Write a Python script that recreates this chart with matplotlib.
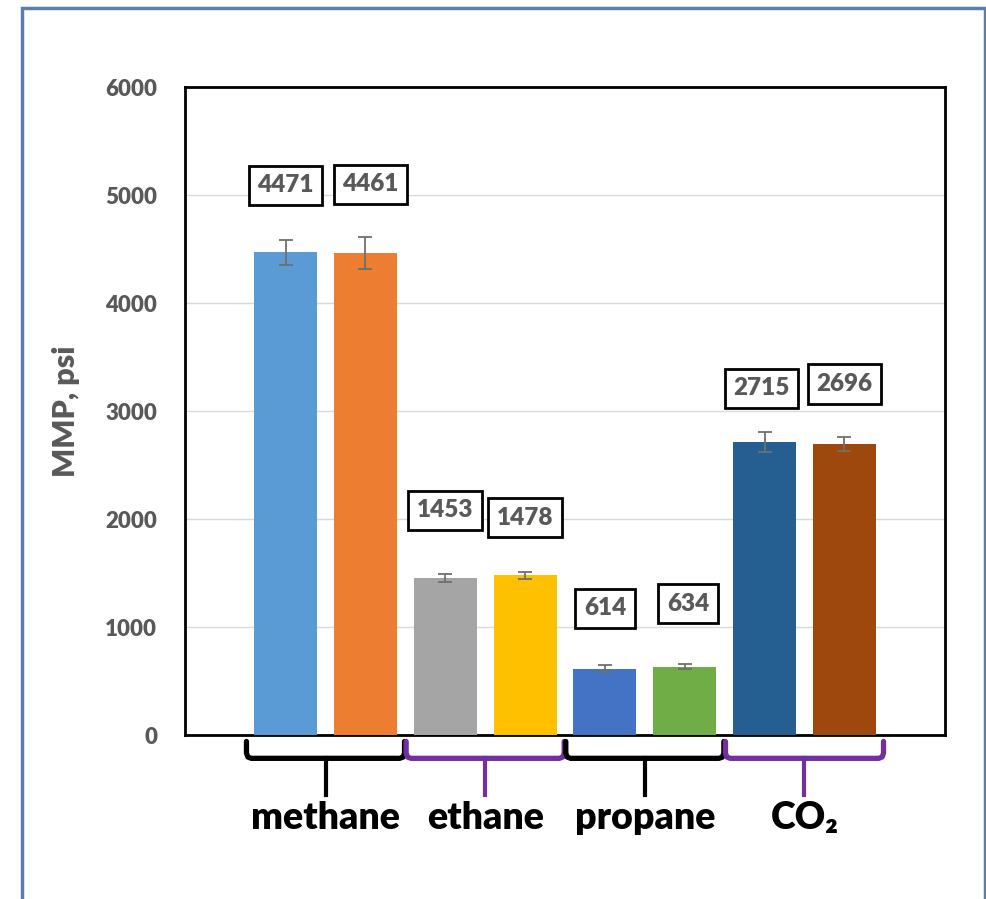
import matplotlib
matplotlib.use("Agg")
import matplotlib.pyplot as plt
import matplotlib.transforms as mtransforms
from matplotlib.patches import Rectangle
import numpy as np

# ---- data ----
bar_names = ["methane A", "methane B", "ethane A", "ethane B",
             "propane A", "propane B", "CO2 A", "CO2 B"]
mmp_values = [4471, 4461, 1453, 1478, 614, 634, 2715, 2696]
mmp_errors = [115, 150, 35, 35, 35, 25, 90, 65]
bar_colors = ["#5B9BD5", "#ED7D31", "#A5A5A5", "#FFC000",
              "#4472C4", "#70AD47", "#255E91", "#9E480E"]
label_y = [5090, 5100, 2080, 2010, 1175, 1215, 3210, 3250]
label_xoff = [0.0, 0.06, 0.0, 0.0, 0.0, 0.04, -0.04, 0.0]
group_names = ["methane", "ethane", "propane", "CO₂"]
brace_colors = ["black", "#7030A0", "black", "#7030A0"]
y_ticks = [0, 1000, 2000, 3000, 4000, 5000, 6000]

plt.rcParams['font.family'] = ['Lato', 'DejaVu Sans']

fig = plt.figure(figsize=(9.87, 8.99), dpi=100)
fig.patch.set_facecolor("white")
# outer frame
fig.patches.append(Rectangle((22/987, -0.05), (985-22)/987, 1.05 - 8/899,
                             transform=fig.transFigure, fill=False,
                             edgecolor="#5B7FA8", lw=2.5))

ax = fig.add_axes([185/987, 1-735/899, (945-185)/987, (735-87)/899])
x = np.arange(len(mmp_values))
ax.bar(x, mmp_values, width=0.79, color=bar_colors, zorder=3)
ax.errorbar(x, mmp_values, yerr=mmp_errors, fmt="none", ecolor="#6f6f6f",
            elinewidth=1.3, capsize=4.7, capthick=1.3, zorder=4)

for xi, v, ly, dx in zip(x, mmp_values, label_y, label_xoff):
    ax.text(xi + dx, ly, f"{v}", ha="center", va="center", fontsize=17.5,
            fontweight="heavy", color="#595959", zorder=5,
            bbox=dict(boxstyle="square,pad=0.35", fc="white", ec="black", lw=2))

ax.set_xlim(-1.26, 8.26)
ax.set_ylim(0, 6000)
ax.set_yticks(y_ticks)
ax.set_yticklabels([str(t) for t in y_ticks], fontsize=16, fontweight="heavy",
                   color="#595959")
ax.tick_params(axis="y", length=0, pad=20)
ax.set_xticks([])
ax.grid(axis="y", color="#D9D9D9", lw=1, zorder=0)
for s in ax.spines.values():
    s.set_color("black")
    s.set_linewidth(2)
ax.set_ylabel("MMP, psi", fontsize=22, fontweight="heavy", color="#595959",
              labelpad=18)

# braces
trans = mtransforms.blended_transform_factory(ax.transData, ax.transAxes)
for gi, (name, col) in enumerate(zip(group_names, brace_colors)):
    c = 2 * gi + 0.5
    x0, x1 = c - 0.99, c + 0.99
    y_top, y_line, y_stem = -0.010, -0.036, -0.092
    r = 0.06
    xs = [x0, x0, x0 + r * 0.3, x0 + r, c, c, c, x1 - r, x1 - r * 0.3, x1, x1]
    ys = [y_top, y_line + 0.008, y_line + 0.002, y_line, y_line, y_line, y_line,
          y_line, y_line + 0.002, y_line + 0.008, y_top]
    ax.plot(xs, ys, color=col, lw=3.8, transform=trans, clip_on=False,
            solid_capstyle="round", solid_joinstyle="round")
    ax.plot([c, c], [y_line, y_stem], color=col, lw=3, transform=trans,
            clip_on=False)
    ax.text(c, -0.128, name, ha="center", va="center", fontsize=27,
            fontweight="heavy", color="black", transform=trans)

fig.savefig("out.png", dpi=100, facecolor="white")
